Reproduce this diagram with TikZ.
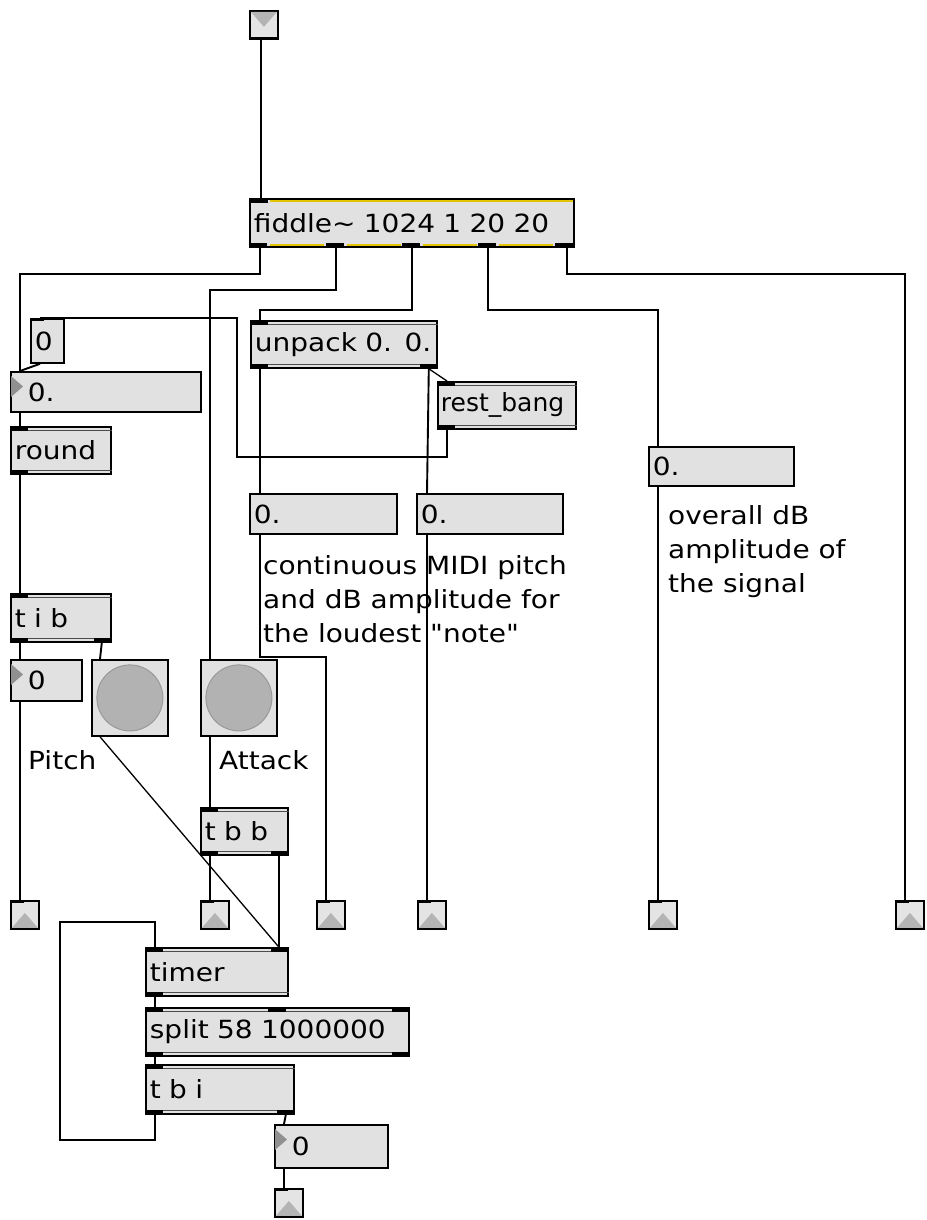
\documentclass[tikz,border=0pt]{standalone}
\usepackage{fontspec}
\usetikzlibrary{calc}
\newfontfamily\patchfamily{DejaVu Sans}[FakeStretch=1.12]
\newfontfamily\patchnarrow{DejaVu Sans}
\newcommand{\patchtext}{\patchfamily\fontsize{25pt}{34pt}\selectfont}
\definecolor{boxgray}{HTML}{E1E1E1}
\definecolor{iogray}{HTML}{E4E4E4}
\definecolor{trigray}{HTML}{B4B4B4}
\definecolor{banggray}{HTML}{B2B2B2}
\definecolor{signalyellow}{HTML}{E2C400}
\tikzset{
  cord/.style={line width=1.9pt, black},
  signal/.style={line width=2.4pt, signalyellow},
  patchbox/.style={draw=black, line width=1.8pt, fill=boxgray, anchor=north west,
    inner xsep=4pt, inner ysep=0pt, align=left, font=\patchtext},
  iobox/.style={draw=black, line width=1.8pt, fill=iogray, anchor=north west,
    minimum size=28pt, inner sep=0pt},
  bangbox/.style={draw=black, line width=1.8pt, fill=boxgray, anchor=north west,
    minimum size=76pt, inner sep=0pt},
  comment/.style={anchor=north west, inner sep=0pt, align=left, font=\patchtext},
  portbar/.style={fill=black},
  frameline/.style={line width=1.2pt, black!70},
}
\begin{document}
\begin{tikzpicture}[x=1pt, y=-1pt]
  \useasboundingbox (0,0) rectangle (926,1220);

  % patch inlet and outlets
  \node[iobox] (inlet) at (249,10) {};
  \foreach \n/\x/\y in {out1/10/900, out2/200/900, out3/316/900, out4/417/900,
                        out5/648/900, out6/895/900, out7/274/1188}
    \node[iobox] (\n) at (\x,\y) {};

  % objects
  \node[patchbox, text width=316pt, minimum height=48pt] (fiddle) at (249,198)
    {fiddle\textasciitilde{} 1024 1 20 20};
  \node[patchbox, text width=25pt, minimum height=44pt] (msg0) at (30,318) {0};
  \node[patchbox, text width=182pt, minimum height=40pt] (flt1) at (10,371) {\hspace*{13pt}0.};
  \node[patchbox, text width=92pt, minimum height=47pt] (round) at (10,426) {round};
  \node[patchbox, text width=178pt, minimum height=47pt] (unpack) at (250,320) {\mbox{unpack 0. 0.}};
  \node[patchbox, text width=132pt, inner xsep=3pt, minimum height=47pt] (restb) at (437,381)
    {\patchnarrow rest\_bang};
  \node[patchbox, text width=139pt, minimum height=40pt] (fltA) at (249,493) {0.};
  \node[patchbox, text width=138pt, minimum height=40pt] (fltB) at (416,493) {0.};
  \node[patchbox, text width=137pt, minimum height=39pt] (fltC) at (648,446) {0.};
  \node[patchbox, text width=92pt, minimum height=48pt] (tib) at (10,593) {t i b};
  \node[patchbox, text width=63pt, minimum height=41pt] (int1) at (10,659) {\hspace*{13pt}0};
  \node[bangbox] (bang1) at (91,659) {};
  \node[bangbox] (bang2) at (200,659) {};
  \node[patchbox, text width=79pt, minimum height=47pt] (tbb) at (200,807) {t b b};
  \node[patchbox, text width=134pt, minimum height=48pt] (timer) at (145,947) {timer};
  \node[patchbox, text width=255pt, minimum height=48pt] (split) at (145,1007) {split 58 1000000};
  \node[patchbox, text width=140pt, minimum height=49pt] (tbi) at (145,1064) {t b i};
  \node[patchbox, text width=105pt, minimum height=43pt] (int2) at (274,1124) {\hspace*{13pt}0};

  % comments
  \node[comment] (cmtPitch) at (28,750) {Pitch};
  \node[comment] (cmtAttack) at (219,750) {Attack};
  \node[comment] (cmtLoudest) at (263,555)
    {continuous MIDI pitch\\and dB amplitude for\\the loudest "note"};
  \node[comment] (cmtOverall) at (668,505) {overall dB\\amplitude of\\the signal};

  % inlet / outlet glyphs
  \fill[trigray] ([shift={(2,2)}]inlet.north west) -- ([shift={(-2,2)}]inlet.north east)
    -- ([yshift=-2pt]inlet.center) -- cycle;
  \fill[portbar] (inlet.south west) rectangle ++(28,-3);
  \foreach \n in {out1, out2, out3, out4, out5, out6, out7}{
    \fill[trigray] ([shift={(2,-2)}]\n.south west) -- ([shift={(-2,-2)}]\n.south east)
      -- ([yshift=2pt]\n.center) -- cycle;
    \fill[portbar] (\n.north west) rectangle ++(14,3);
  }

  % number box arrows
  \foreach \n in {flt1, int1, int2}
    \fill[trigray!80!black] ([shift={(1,5)}]\n.north west) -- ++(0,21) -- ++(12,-10.5) -- cycle;

  % bang buttons
  \foreach \n in {bang1, bang2}
    \filldraw[fill=banggray, draw=black!40, line width=1pt] (\n.center) circle[radius=33pt];

  % object frames and ports
  \foreach \n in {round, unpack, restb, tib, tbb, timer, split, tbi}{
    \draw[frameline] ([yshift=-4.5pt]\n.north west) -- ([yshift=-4.5pt]\n.north east);
    \draw[frameline] ([yshift=4.5pt]\n.south west) -- ([yshift=4.5pt]\n.south east);
    \fill[portbar] (\n.north west) rectangle ++(18,5);
    \fill[portbar] (\n.south west) rectangle ++(18,-5);
  }
  \foreach \n in {unpack, tib, tbb, split, tbi}
    \fill[portbar] (\n.south east) rectangle ++(-18,-5);
  \foreach \n in {timer, split}
    \fill[portbar] (\n.north east) rectangle ++(-18,5);
  \fill[portbar] ([xshift=-9pt]split.north) rectangle ++(18,5);
  \fill[portbar] (msg0.north west) rectangle ++(14,3);

  % fiddle~ signal frame
  \fill[portbar] (fiddle.north west) rectangle ++(19,5);
  \draw[signal] ([shift={(21,3)}]fiddle.north west) -- ([shift={(-2,3)}]fiddle.north east);
  \foreach \dx in {0,77,153,229,306}
    \fill[portbar] ([xshift=\dx pt]fiddle.south west) rectangle ++(18,-5);
  \foreach \dx in {21,98,174,250}
    \draw[signal] ([shift={(\dx,-3)}]fiddle.south west) -- ++(54,0);

  % patch cords
  \coordinate (restret) at (237,318);
  \coordinate (fbloop) at (60,922);
  \draw[cord] ([xshift=12pt]inlet.south west) -- ([xshift=12pt]fiddle.north west);
  \draw[cord] ([xshift=11pt]fiddle.south west) -- ++(0,26) -| ([xshift=10pt]flt1.north west);
  \draw[cord] ([xshift=87pt]fiddle.south west) -- ++(0,42) -| ([xshift=10pt]bang2.north west);
  \draw[cord] ([xshift=163pt]fiddle.south west) -- ++(0,62) -| ([xshift=10pt]unpack.north west);
  \draw[cord] ([xshift=239pt]fiddle.south west) -- ++(0,62) -| ([xshift=10pt]fltC.north west);
  \draw[cord] ([xshift=-8pt]fiddle.south east) -- ++(0,26) -| ([xshift=10pt]out6.north west);
  \draw[cord] ([xshift=10pt]msg0.south west) -- ([xshift=10pt]flt1.north west);
  \draw[cord] ([xshift=10pt]flt1.south west) -- ([xshift=10pt]round.north west);
  \draw[cord] ([xshift=10pt]round.south west) -- ([xshift=10pt]tib.north west);
  \draw[cord] ([xshift=10pt]tib.south west) -- ([xshift=10pt]int1.north west);
  \draw[cord] ([xshift=-10pt]tib.south east) -- ([xshift=9pt]bang1.north west);
  \draw[cord] ([xshift=10pt]int1.south west) -- ([xshift=10pt]out1.north west);
  \draw[cord, line width=1.3pt] ([xshift=9pt]bang1.south west) -- ([xshift=-10pt]timer.north east);
  \draw[cord] ([xshift=10pt]bang2.south west) -- ([xshift=10pt]tbb.north west);
  \draw[cord] ([xshift=10pt]tbb.south west) -- ([xshift=10pt]out2.north west);
  \draw[cord] ([xshift=-10pt]tbb.south east) -- ([xshift=-10pt]timer.north east);
  \draw[cord] ([xshift=10pt]unpack.south west) -- ([xshift=11pt]fltA.north west);
  \draw[cord, line width=1.3pt] ([xshift=-9pt]unpack.south east) -- ([xshift=10pt]restb.north west);
  \draw[cord] ([xshift=-9pt]unpack.south east) -- ([xshift=11pt]fltB.north west);
  \draw[cord] ([xshift=10pt]restb.south west) -- ++(0,27) -| (restret) -| ([xshift=10pt]msg0.north west);
  \draw[cord] ([xshift=11pt]fltA.south west) -- ++(0,122) -| ([xshift=10pt]out3.north west);
  \draw[cord] ([xshift=11pt]fltB.south west) -- ([xshift=10pt]out4.north west);
  \draw[cord] ([xshift=10pt]fltC.south west) -- ([xshift=10pt]out5.north west);
  \draw[cord] ([xshift=10pt]timer.south west) -- ([xshift=10pt]split.north west);
  \draw[cord] ([xshift=10pt]split.south west) -- ([xshift=10pt]tbi.north west);
  \draw[cord] ([xshift=10pt]tbi.south west) -- ++(0,25) -| (fbloop) -| ([xshift=10pt]timer.north west);
  \draw[cord] ([xshift=-9pt]tbi.south east) -- ([xshift=10pt]int2.north west);
  \draw[cord] ([xshift=10pt]int2.south west) -- ([xshift=10pt]out7.north west);
\end{tikzpicture}
\end{document}
